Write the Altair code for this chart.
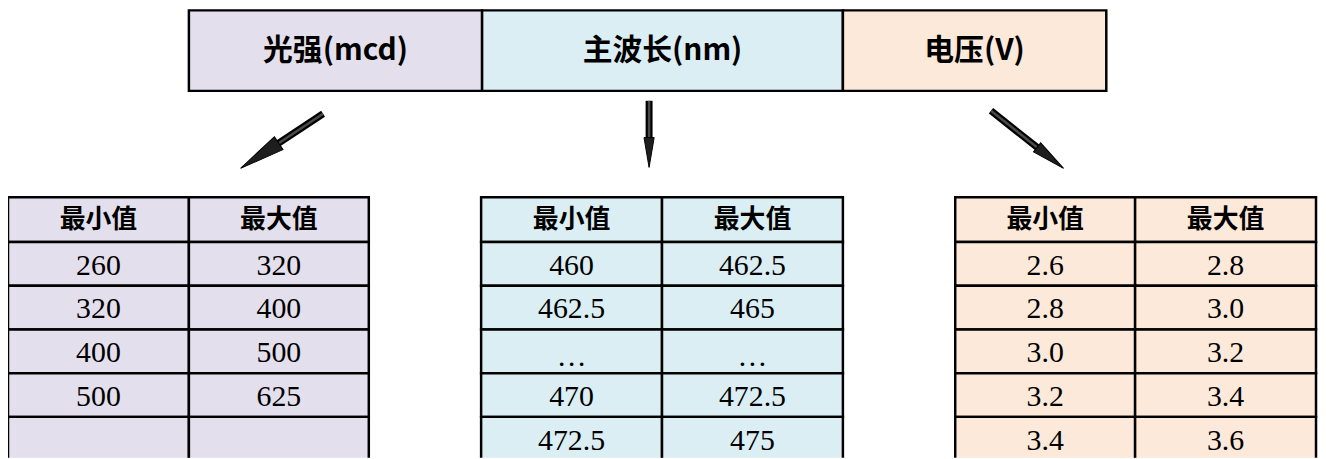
import altair as alt
import pandas as pd
import numpy as np

# ---- content ----
top_labels = ["光强(mcd)", "主波长(nm)", "电压(V)"]
panel_fills = ["#E4DFEC", "#DAEEF3", "#FDE9D9"]
col_headers = ["最小值", "最大值"]

lum_min = ["260", "320", "400", "500", ""]
lum_max = ["320", "400", "500", "625", ""]
wl_min = ["460", "462.5", "…", "470", "472.5"]
wl_max = ["462.5", "465", "…", "472.5", "475"]
v_min = ["2.6", "2.8", "3.0", "3.2", "3.4"]
v_max = ["2.8", "3.0", "3.2", "3.4", "3.6"]
tables = [(lum_min, lum_max), (wl_min, wl_max), (v_min, v_max)]

# ---- layout (pixel space of the page) ----
W, H = 1318, 451
top_x_edges = [190, 485, 848, 1113]
top_y = (9, 90)
table_x_edges = [[8, 190, 371], [484, 666, 848], [961, 1142, 1324]]
row_edges = [197, 242, 286, 330, 374, 418, 470]

arrow_tail = [(325, 113), (653, 100), (997, 110)]
arrow_tip = [(242, 168), (653, 167), (1070, 168)]
head_len = [46, 30, 34]

# ---- build tables ----
cells, texts = [], []
for i, lab in enumerate(top_labels):
    x0, x1 = top_x_edges[i], top_x_edges[i + 1]
    cells.append(dict(x=x0, x2=x1, y=top_y[0], y2=top_y[1], fill=panel_fills[i]))
    texts.append(dict(x=(x0 + x1) / 2, y=50, t=lab, kind="top"))

for ti, (mins, maxs) in enumerate(tables):
    xe = table_x_edges[ti]
    for r in range(len(row_edges) - 1):
        y0, y1 = row_edges[r], row_edges[r + 1]
        for c in range(2):
            cells.append(dict(x=xe[c], x2=xe[c + 1], y=y0, y2=y1, fill=panel_fills[ti]))
            cx = (xe[c] + xe[c + 1]) / 2
            if r == 0:
                texts.append(dict(x=cx, y=(y0 + y1) / 2, t=col_headers[c], kind="head"))
            else:
                vals = mins if c == 0 else maxs
                v = vals[r - 1]
                if v:
                    kind = "dots" if v == "…" else "num"
                    texts.append(dict(x=cx, y=(y0 + 44 / 2) + 2, t=v, kind=kind))

cells_df = pd.DataFrame(cells)
texts_df = pd.DataFrame(texts)

# ---- arrows ----
arr = []
for (tx, ty), (px, py), L in zip(arrow_tail, arrow_tip, head_len):
    dx, dy = px - tx, py - ty
    n = np.hypot(dx, dy)
    ux, uy = dx / n, dy / n
    hx, hy = px - ux * L / 2, py - uy * L / 2
    ang = (np.degrees(np.arctan2(dx, -dy)) + 360) % 360
    arr.append(dict(tx=tx, ty=ty, hx=hx, hy=hy, sx=px - ux * L * 0.8, sy=py - uy * L * 0.8,
                    ang=ang, size=L * L))
arr_df = pd.DataFrame(arr)

xs = alt.Scale(domain=[8, 8 + W], nice=False, zero=False)
ys = alt.Scale(domain=[8, 8 + H], nice=False, zero=False, reverse=True)
X = lambda f: alt.X(f, type="quantitative", scale=xs, axis=None)
Y = lambda f: alt.Y(f, type="quantitative", scale=ys, axis=None)

rects = alt.Chart(cells_df).mark_rect(stroke="black", strokeWidth=2.5, clip=True).encode(
    x=X("x"), x2="x2", y=Y("y"), y2="y2", fill=alt.Fill("fill:N", scale=None)
)

def text_layer(kind, **kw):
    return alt.Chart(texts_df).transform_filter(alt.datum.kind == kind).mark_text(
        align="center", baseline="middle", color="black", **kw
    ).encode(x=X("x"), y=Y("y"), text="t:N")

top_text = text_layer("top", font="Noto Sans CJK SC", fontWeight="bold", fontSize=30)
head_text = text_layer("head", font="Noto Sans CJK SC", fontWeight="bold", fontSize=26)
num_text = text_layer("num", font="Liberation Serif", fontSize=30)
dots_text = text_layer("dots", font="Liberation Serif", fontSize=30, dy=4)

shaft_outer = alt.Chart(arr_df).mark_rule(color="black", strokeWidth=7, strokeCap="butt").encode(
    x=X("tx"), y=Y("ty"), x2="sx", y2="sy"
)
shaft_inner = alt.Chart(arr_df).mark_rule(color="#4a4a4a", strokeWidth=2.5, strokeCap="butt").encode(
    x=X("tx"), y=Y("ty"), x2="sx", y2="sy"
)
heads = alt.Chart(arr_df).mark_point(
    shape="M0,-1L0.34,1L-0.34,1Z", filled=True, fill="#1e1e1e", stroke="black",
    strokeWidth=1, opacity=1
).encode(
    x=X("hx"), y=Y("hy"), angle=alt.Angle("ang:Q", scale=None), size=alt.Size("size:Q", scale=None)
)

chart = alt.layer(rects, shaft_outer, shaft_inner, heads, top_text, head_text, num_text, dots_text).properties(
    width=W, height=H, autosize=alt.AutoSizeParams(type="none"), padding=0
).configure_view(stroke=None)

chart.save("out.html", embed_options={"renderer": "svg", "actions": False})
